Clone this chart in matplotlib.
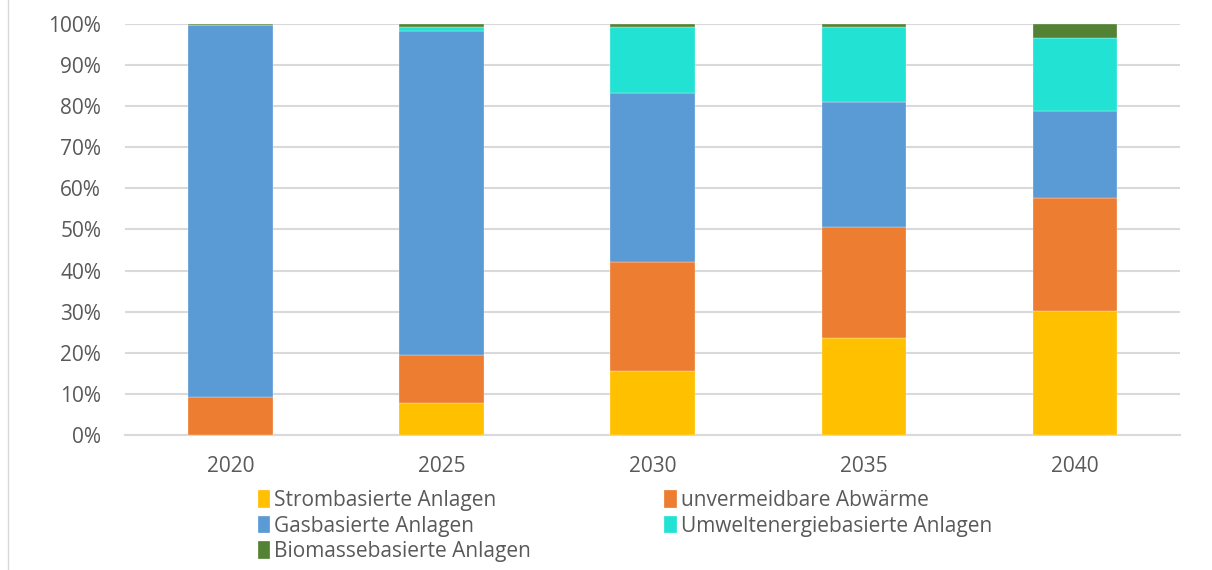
import matplotlib.pyplot as plt
import numpy as np

plt.rcParams['font.family'] = ['Open Sans', 'DejaVu Sans']

years = ["2020", "2025", "2030", "2035", "2040"]
series = [
    "Strombasierte Anlagen",
    "unvermeidbare Abwärme",
    "Gasbasierte Anlagen",
    "Umweltenergiebasierte Anlagen",
    "Biomassebasierte Anlagen",
]
strom = [0.0, 7.8, 15.6, 23.6, 30.2]
abwaerme = [9.2, 11.7, 26.5, 27.0, 27.5]
gas = [90.5, 78.9, 41.1, 30.4, 21.1]
umwelt = [0.1, 0.8, 16.0, 18.2, 17.7]
biomasse = [0.2, 0.8, 0.8, 0.8, 3.5]
colors = ["#FFC000", "#ED7D31", "#5B9BD5", "#22E3D3", "#548235"]


def mymain():
    fig = plt.figure(figsize=(12.12, 5.70), dpi=100)
    ax = fig.add_axes([0.103, 0.237, 0.871, 0.721])

    x = np.arange(len(years))
    bottom = np.zeros(len(years))
    bars = []
    for vals, name, c in zip([strom, abwaerme, gas, umwelt, biomasse], series, colors):
        b = ax.bar(x, vals, 0.4, bottom=bottom, color=c, label=name,
                   edgecolor="white", linewidth=0.2, zorder=3)
        bars.append(b)
        bottom = bottom + np.array(vals)

    ax.set_xlim(-0.5, len(years) - 0.5)
    ax.set_ylim(0, 100)
    ax.set_yticks(np.arange(0, 101, 10))
    ax.set_yticklabels([f"{v}%" for v in range(0, 101, 10)])
    ax.set_xticks(x)
    ax.set_xticklabels(years)
    ax.yaxis.grid(True, color="#d9d9d9", linewidth=1.5, zorder=0)
    ax.tick_params(length=0, labelsize=15, labelcolor="#595959")
    ax.tick_params(axis="x", pad=15)
    ax.tick_params(axis="y", pad=17)
    for s in ["top", "right", "left"]:
        ax.spines[s].set_visible(False)
    ax.spines["bottom"].set_color("#d9d9d9")
    ax.spines["bottom"].set_linewidth(1.5)

    # legend is filled column by column, so reorder for row-wise reading
    order = [0, 2, 4, 1, 3]
    fig.legend([bars[i] for i in order], [series[i] for i in order],
               ncol=2, loc="upper left", bbox_to_anchor=(0.197, 0.173),
               frameon=False, fontsize=15, handlelength=0.6, handleheight=0.9,
               handletextpad=0.2, columnspacing=6.4, labelspacing=0.22,
               labelcolor="#595959")

    # left border of the chart area
    fig.add_artist(plt.Line2D([0.007, 0.007], [0, 1], color="#d9d9d9", linewidth=1))

    fig.savefig("out.png", dpi=100)


if __name__ == "__main__":
    mymain()
